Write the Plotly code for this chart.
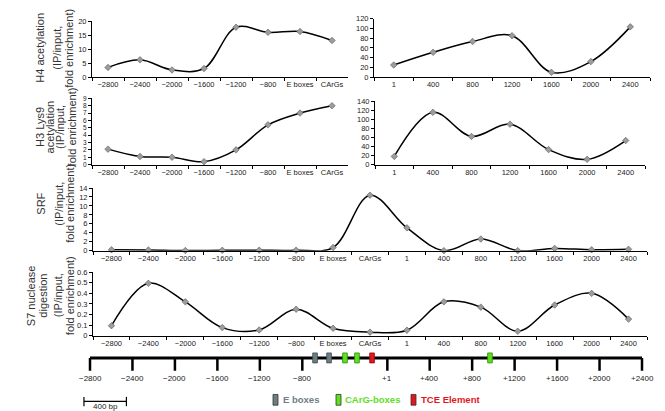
import plotly.graph_objects as go

W, H = 665, 411


def fx(p):
    return p / W


def fy(p):
    return 1 - p / H


# ---------------- data ----------------
cat_left = ["−2800", "−2400", "−2000", "−1600", "−1200", "−800", "E boxes", "CArGs"]
cat_right = ["1", "400", "800", "1200", "1600", "2000", "2400"]
cat_full = cat_left + cat_right

h4_left = [3.5, 6.2, 2.6, 3.1, 17.8, 16.0, 16.3, 13.1]
h4_right = [25, 51, 73, 85, 10, 32, 103]
h3_left = [2.1, 1.1, 1.0, 0.4, 2.0, 5.4, 7.0, 8.0]
h3_right = [18, 115, 62, 89, 33, 11.5, 53]
srf = [0.2, 0.15, 0.02, 0.08, 0.1, 0.1, 0.7, 12.4, 5.1, 0.0, 2.6, 0.0, 0.5, 0.2, 0.3]
s7 = [0.095, 0.495, 0.32, 0.077, 0.055, 0.25, 0.07, 0.034, 0.052, 0.32, 0.27,
      0.043, 0.29, 0.40, 0.157]

map_ticks = [-2800, -2400, -2000, -1600, -1200, -800, 1, 400, 800, 1200, 1600, 2000, 2400]
map_tick_labels = ["−2800", "−2400", "−2000", "−1600", "−1200", "−800",
                   "+1", "+400", "+800", "+1200", "+1600", "+2000", "+2400"]
ebox_pos = [-680, -548]
carg_pos = [-398, -285, 968]
tce_pos = [-143]
scale_bp = 400

legend_items = ["E boxes", "CArG-boxes", "TCE Element"]

# ---------------- styling ----------------
FONT = "Liberation Sans, Arial, Helvetica, sans-serif"
TICKFONT = dict(family=FONT, size=7.5, color="#222")
COL_E = "#6f7d83"
COL_C = "#5fe01e"
COL_T = "#e3161e"

fig = go.Figure()


def add_series(cats, vals, xa, ya):
    fig.add_trace(go.Scatter(
        x=cats, y=vals, mode="lines+markers", xaxis=xa, yaxis=ya,
        line=dict(color="black", width=1.5, shape="spline", smoothing=1),
        marker=dict(symbol="diamond", size=5, color="#9c9c9c",
                    line=dict(color="#5a5a5a", width=0.6)),
        cliponaxis=False, hoverinfo="skip"))


add_series(cat_left, h4_left, "x", "y")
add_series(cat_right, h4_right, "x2", "y2")
add_series(cat_left, h3_left, "x3", "y3")
add_series(cat_right, h3_right, "x4", "y4")
add_series(cat_full, srf, "x5", "y5")
add_series(cat_full, s7, "x6", "y6")


def cat_xaxis(cats, x0, x1, anchor):
    return dict(domain=[fx(x0), fx(x1)], anchor=anchor, type="category",
                categoryorder="array", categoryarray=cats,
                range=[-0.5, len(cats) - 0.5], showline=True, linecolor="black",
                linewidth=1, ticks="outside", tickson="boundaries", ticklen=3,
                tickcolor="black", tickwidth=1, showgrid=False, zeroline=False,
                tickangle=0, tickfont=TICKFONT, fixedrange=True)


def val_yaxis(rng, dtick, y0, y1, anchor, fsize=7.5):
    return dict(domain=[fy(y1), fy(y0)], anchor=anchor, range=rng, dtick=dtick,
                showline=True, linecolor="black", linewidth=1, ticks="outside",
                ticklen=3, tickcolor="black", tickwidth=1, showgrid=False,
                zeroline=False, tickfont=dict(TICKFONT, size=fsize), fixedrange=True)


# map axis scale: -2800 at 82px, 2400 at 634px
ppb = (634 - 82) / (map_ticks[-1] - map_ticks[0])
mx0, mx1 = 60, 660
map_range = [map_ticks[0] - (82 - mx0) / ppb, map_ticks[-1] + (mx1 - 634) / ppb]

fig.update_layout(
    xaxis=cat_xaxis(cat_left, 84, 340, "y"),
    yaxis=val_yaxis([0, 20], 5, 9.3, 66.7, "x"),
    xaxis2=cat_xaxis(cat_right, 366, 642, "y2"),
    yaxis2=val_yaxis([0, 120], 20, 6.7, 66.7, "x2"),
    xaxis3=cat_xaxis(cat_left, 84, 340, "y3"),
    yaxis3=val_yaxis([0, 9], 1, 88.3, 156, "x3", fsize=6.5),
    xaxis4=cat_xaxis(cat_right, 367, 637, "y4"),
    yaxis4=val_yaxis([0, 140], 20, 91, 156, "x4"),
    xaxis5=cat_xaxis(cat_full, 85, 639, "y5"),
    yaxis5=val_yaxis([0, 14], 2, 180, 244, "x5"),
    xaxis6=cat_xaxis(cat_full, 85, 639, "y6"),
    yaxis6=val_yaxis([0, 0.6], 0.1, 266, 331, "x6"),
    xaxis7=dict(domain=[fx(mx0), fx(mx1)], anchor="y7", range=map_range,
                visible=False, fixedrange=True),
    yaxis7=dict(domain=[fy(410), fy(345)], anchor="x7", range=[-5.2, 0.8],
                visible=False, fixedrange=True),
)

# ---------------- gene map ----------------
fig.add_trace(go.Scatter(x=[map_ticks[0], map_ticks[-1]], y=[0, 0], mode="lines",
                         xaxis="x7", yaxis="y7", line=dict(color="black", width=3),
                         hoverinfo="skip"))
tx, ty = [], []
for t in map_ticks:
    tx += [t, t, None]
    ty += [0, -1.2, None]
fig.add_trace(go.Scatter(x=tx, y=ty, mode="lines", xaxis="x7", yaxis="y7",
                         line=dict(color="black", width=2.5), hoverinfo="skip"))

shapes = []
annotations = []
for t, lab in zip(map_ticks, map_tick_labels):
    annotations.append(dict(text=lab, xref="x7", yref="y7", x=t, y=-1.9,
                            xanchor="center", yanchor="middle", showarrow=False,
                            font=dict(family=FONT, size=8, color="#222")))

half_w = 22
for plist, fill, edge in [(ebox_pos, COL_E, "#3c4a50"), (carg_pos, COL_C, "#2d8a0c"),
                          (tce_pos, COL_T, "#8a0a0a")]:
    for p in plist:
        shapes.append(dict(type="rect", xref="x7", yref="y7", x0=p - half_w, x1=p + half_w,
                           y0=-0.47, y1=0.47, fillcolor=fill,
                           line=dict(color=edge, width=0.8), layer="above"))

# legend swatches
for (sx, tx0, col, lab) in [(265, 273, COL_E, legend_items[0]),
                            (328, 335, COL_C, legend_items[1]),
                            (403, 411, COL_T, legend_items[2])]:
    shapes.append(dict(type="rect", xref="paper", yref="paper", x0=fx(sx), x1=fx(sx + 5),
                       y0=fy(402), y1=fy(391), fillcolor=col,
                       line=dict(color="#333", width=0.8)))
    annotations.append(dict(text="<b>%s</b>" % lab, xref="paper", yref="paper",
                            x=fx(tx0), y=fy(396.5), xanchor="left", yanchor="middle",
                            showarrow=False, font=dict(family=FONT, size=9.5, color=col)))

# scale bar
sb0 = map_ticks[0] - 57
shapes.append(dict(type="line", xref="x7", yref="paper", x0=sb0, x1=sb0 + scale_bp,
                   y0=fy(398), y1=fy(398), line=dict(color="black", width=1.2)))
for xx in [sb0, sb0 + scale_bp]:
    shapes.append(dict(type="line", xref="x7", yref="paper", x0=xx, x1=xx,
                       y0=fy(393.5), y1=fy(403), line=dict(color="black", width=1.2)))
annotations.append(dict(text="%d bp" % scale_bp, xref="x7", yref="paper",
                        x=sb0 + scale_bp / 2, y=fy(403.5), xanchor="center",
                        yanchor="middle", showarrow=False,
                        font=dict(family=FONT, size=8, color="#222")))

# ---------------- y titles ----------------
titles = [
    ([("H4 acetylation", 32.5), ("(IP/input,", 49.5), ("fold enrichment)", 61.5)], 37),
    ([("H3 Lys9", 32.5), ("acetylation", 42), ("(IP/input,", 52.5),
      ("fold enrichment)", 64)], 118),
    ([("SRF", 33), ("(IP/input,", 51), ("fold enrichment)", 62)], 196),
    ([("S7 nuclease", 22.5), ("digestion", 35), ("(IP/input,", 49.5),
      ("fold enrichment)", 61.5)], 290),
]
for lines, cy in titles:
    for txt, cx in lines:
        annotations.append(dict(text=txt, xref="paper", yref="paper", x=fx(cx), y=fy(cy),
                                xanchor="center", yanchor="middle", textangle=-90,
                                showarrow=False,
                                font=dict(family=FONT, size=11, color="#333")))

fig.update_layout(
    width=W, height=H, margin=dict(l=0, r=0, t=0, b=0),
    paper_bgcolor="white", plot_bgcolor="white", showlegend=False,
    shapes=shapes, annotations=annotations, font=dict(family=FONT),
)

fig.write_html("out.html", config={"displayModeBar": False})
